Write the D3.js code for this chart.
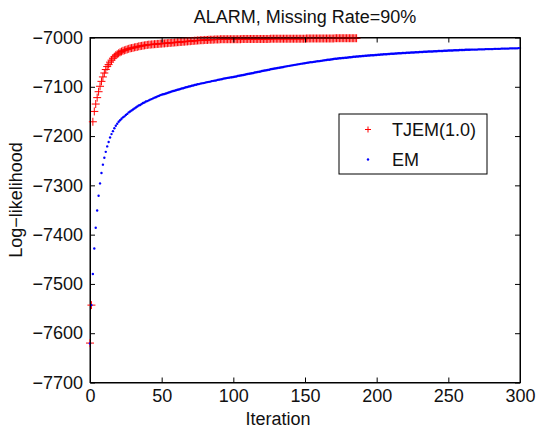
<!DOCTYPE html>
<html>
<head>
<meta charset="utf-8">
<title>ALARM, Missing Rate=90%</title>
<script src="https://cdn.jsdelivr.net/npm/d3@7"></script>
<style>
  body { margin: 0; background: #fff; }
  svg text { font-family: "Liberation Sans", Arial, sans-serif; fill: #111; }
</style>
</head>
<body>
<div id="chart"></div>
<script>
// log-likelihood per iteration (index = iteration)
var tjemLL = [
  -7620, -7543, -7171, -7150, -7135, -7122, -7110, -7099, -7089, -7080,
  -7072, -7065, -7059, -7055, -7050, -7046, -7042, -7039, -7036, -7034,
  -7032, -7030, -7028.5, -7027, -7026, -7025, -7024, -7023, -7022, -7021.5,
  -7021, -7020, -7019.5, -7019, -7018, -7017.5, -7017, -7016.5, -7016, -7015.5,
  -7015, -7014.5, -7014.5, -7014, -7014, -7013.5, -7013.5, -7013, -7013, -7012.5,
  -7012.5, -7012, -7012, -7011.5, -7011.5, -7011, -7011, -7010.5, -7010.5, -7010,
  -7010, -7009.5, -7009.5, -7009, -7009, -7008.5, -7008.5, -7008, -7008, -7007.5,
  -7007.5, -7007, -7007, -7006.5, -7006.5, -7006, -7006, -7005.5, -7005.5, -7005.5,
  -7005, -7005, -7005, -7004.5, -7004.5, -7004.5, -7004.5, -7004, -7004, -7004,
  -7004, -7003.5, -7003.5, -7003.5, -7003.5, -7003.5, -7003.5, -7003.5, -7003.5, -7003.5,
  -7003.5, -7003.5, -7003.5, -7003.5, -7003.5, -7003.5, -7003, -7003, -7003, -7003,
  -7003, -7003, -7003, -7003, -7003, -7003, -7003, -7003, -7003, -7003,
  -7003, -7003, -7003, -7003, -7003, -7003, -7002.5, -7002.5, -7002.5, -7002.5,
  -7002.5, -7002.5, -7002.5, -7002.5, -7002.5, -7002.5, -7002.5, -7002.5, -7002.5, -7002.5,
  -7002.5, -7002.5, -7002.5, -7002.5, -7002.5, -7002.5, -7002.5, -7002.5, -7002.5, -7002.5,
  -7002.5, -7002, -7002, -7002, -7002, -7002, -7002, -7002, -7002, -7002,
  -7002, -7002, -7002, -7002, -7002, -7002, -7002, -7002, -7002, -7002,
  -7002, -7001.5, -7001.5, -7001.5, -7001.5, -7001.5, -7001.5, -7001.5, -7001.5, -7001.5,
  -7001.5, -7001.5, -7001.5, -7001.5, -7001.5, -7001.5, -7001.5
];

var emLL = [
  -7621, -7543, -7480, -7428, -7386, -7351, -7321, -7296, -7275, -7258,
  -7244, -7232, -7221, -7212, -7203, -7196, -7190, -7184, -7179, -7175,
  -7171, -7168, -7165, -7162, -7160, -7157, -7155, -7152, -7150, -7148,
  -7146, -7144, -7142, -7140, -7138, -7137, -7135, -7133, -7132, -7130,
  -7129, -7127.5, -7126, -7125, -7123.5, -7122, -7121, -7119.5, -7118.5, -7117,
  -7116, -7115, -7114.5, -7113.5, -7112.5, -7111.5, -7110.5, -7109.5, -7108.5, -7108,
  -7107, -7106, -7105.5, -7104.5, -7103.5, -7103, -7102, -7101, -7100.5, -7099.5,
  -7099, -7098, -7097.5, -7096.5, -7096, -7095, -7094.5, -7093.5, -7093, -7092.5,
  -7092, -7091, -7090.5, -7090, -7089.5, -7088.5, -7088, -7087.5, -7087, -7086,
  -7085.5, -7085, -7084.5, -7083.5, -7083, -7082.5, -7082, -7081.5, -7081, -7080.5,
  -7080, -7079.5, -7079, -7078, -7077.5, -7077, -7076.5, -7076, -7075.5, -7074.5,
  -7074, -7073.5, -7073, -7072.5, -7072, -7071, -7070.5, -7070, -7069.5, -7069,
  -7068, -7067.5, -7067, -7066.5, -7066, -7065.5, -7064.5, -7064, -7063.5, -7063,
  -7062.5, -7062, -7061.5, -7061, -7060.5, -7060, -7059, -7058.5, -7058, -7057.5,
  -7057, -7056.5, -7056, -7055.5, -7055, -7054.5, -7054, -7053.5, -7053, -7052.5,
  -7052, -7051.5, -7051, -7050.5, -7050, -7050, -7049.5, -7049, -7048.5, -7048,
  -7048, -7047.5, -7047, -7046.5, -7046, -7045.5, -7045, -7045, -7044.5, -7044,
  -7043.5, -7043, -7043, -7042.5, -7042, -7042, -7041.5, -7041.5, -7041, -7041,
  -7040.5, -7040, -7040, -7039.5, -7039, -7039, -7038.5, -7038.5, -7038, -7038,
  -7037.5, -7037.5, -7037, -7037, -7036.5, -7036.5, -7036, -7036, -7036, -7035.5,
  -7035.5, -7035, -7035, -7034.5, -7034.5, -7034, -7034, -7034, -7033.5, -7033.5,
  -7033, -7033, -7033, -7032.5, -7032.5, -7032, -7032, -7032, -7031.5, -7031.5,
  -7031.5, -7031, -7031, -7031, -7030.5, -7030.5, -7030.5, -7030, -7030, -7030,
  -7029.5, -7029.5, -7029.5, -7029, -7029, -7029, -7028.5, -7028.5, -7028.5, -7028.5,
  -7028, -7028, -7028, -7027.5, -7027.5, -7027.5, -7027.5, -7027, -7027, -7027,
  -7026.5, -7026.5, -7026.5, -7026.5, -7026, -7026, -7026, -7026, -7025.5, -7025.5,
  -7025.5, -7025.5, -7025, -7025, -7025, -7025, -7024.5, -7024.5, -7024.5, -7024.5,
  -7024.5, -7024, -7024, -7024, -7024, -7024, -7023.5, -7023.5, -7023.5, -7023.5,
  -7023.5, -7023.5, -7023, -7023, -7023, -7023, -7023, -7022.5, -7022.5, -7022.5,
  -7022.5, -7022.5, -7022.5, -7022, -7022, -7022, -7022, -7022, -7022, -7021.5,
  -7021.5
];

var seriesNames = ["TJEM(1.0)", "EM"];
var xTicks = [0, 50, 100, 150, 200, 250, 300];
var yTicks = [-7700, -7600, -7500, -7400, -7300, -7200, -7100, -7000];

var W = 536, H = 430;
var plotL = 90, plotR = 520, plotT = 37.5, plotB = 382.5;

var svg = d3.select("#chart").append("svg")
  .attr("width", W)
  .attr("height", H);

var x = d3.scaleLinear().domain([0, 300]).range([plotL, plotR]);
var y = d3.scaleLinear().domain([-7700, -7000]).range([plotB, plotT]);

// frame
svg.append("rect")
  .attr("x", plotL).attr("y", plotT)
  .attr("width", plotR - plotL).attr("height", plotB - plotT)
  .attr("fill", "#fff").attr("stroke", "#000").attr("stroke-width", 1);

var plot = svg.append("g");

// TJEM markers (+)
plot.selectAll(".tjem")
  .data(tjemLL)
  .enter()
  .append("path")
  .attr("class", "tjem")
  .attr("transform", function(d, i) { return "translate(" + x(i) + "," + y(d) + ")"; })
  .attr("d", "M-4,0H4M0,-4V4")
  .attr("stroke", "#ff0000")
  .attr("stroke-width", 1)
  .attr("fill", "none");

// EM dots
plot.selectAll(".em")
  .data(emLL)
  .enter()
  .append("circle")
  .attr("class", "em")
  .attr("cx", function(d, i) { return x(i); })
  .attr("cy", function(d) { return y(d); })
  .attr("r", 1.2)
  .attr("fill", "#0000ff");

// axes, ticks pointing in on all four sides
function styleAxis(g) {
  g.selectAll("path.domain").attr("stroke", "#000");
  g.selectAll(".tick line").attr("stroke", "#000");
  g.selectAll("text").attr("font-size", "18px").attr("fill", "#111")
    .attr("font-family", "Liberation Sans, Arial, sans-serif");
}

svg.append("g")
  .attr("transform", "translate(0," + plotB + ")")
  .call(d3.axisBottom(x).tickValues(xTicks).tickSizeInner(-5).tickSizeOuter(0).tickPadding(7))
  .call(styleAxis);

svg.append("g")
  .attr("transform", "translate(0," + plotT + ")")
  .call(d3.axisTop(x).tickValues(xTicks).tickSizeInner(-5).tickSizeOuter(0).tickFormat(""))
  .call(styleAxis);

svg.append("g")
  .attr("transform", "translate(" + plotL + ",0)")
  .call(d3.axisLeft(y).tickValues(yTicks).tickFormat(d3.format("d"))
    .tickSizeInner(-5).tickSizeOuter(0).tickPadding(7))
  .call(styleAxis);

svg.append("g")
  .attr("transform", "translate(" + plotR + ",0)")
  .call(d3.axisRight(y).tickValues(yTicks).tickSizeInner(-5).tickSizeOuter(0).tickFormat(""))
  .call(styleAxis);

// labels
svg.append("text")
  .attr("x", 305).attr("y", 23)
  .attr("text-anchor", "middle")
  .attr("font-size", "18px")
  .text("ALARM, Missing Rate=90%");

svg.append("text")
  .attr("x", 278).attr("y", 425)
  .attr("text-anchor", "middle")
  .attr("font-size", "18px")
  .text("Iteration");

svg.append("text")
  .attr("transform", "translate(22,200) rotate(-90)")
  .attr("text-anchor", "middle")
  .attr("font-size", "18px")
  .text("Log\u2212likelihood");

// legend
var lg = svg.append("g").attr("transform", "translate(339,114)");
lg.append("rect")
  .attr("width", 148).attr("height", 60)
  .attr("fill", "#fff").attr("stroke", "#000").attr("stroke-width", 1);

lg.append("path")
  .attr("transform", "translate(29,15.5)")
  .attr("d", "M-3,0H3M0,-3V3")
  .attr("stroke", "#ff0000").attr("fill", "none");
lg.append("circle")
  .attr("cx", 29).attr("cy", 45.5).attr("r", 1.2)
  .attr("fill", "#0000ff");

lg.selectAll(".lgtext")
  .data(seriesNames)
  .enter()
  .append("text")
  .attr("class", "lgtext")
  .attr("x", 53)
  .attr("y", function(d, i) { return 22 + i * 30; })
  .attr("font-size", "18px")
  .text(function(d) { return d; });
</script>
</body>
</html>
